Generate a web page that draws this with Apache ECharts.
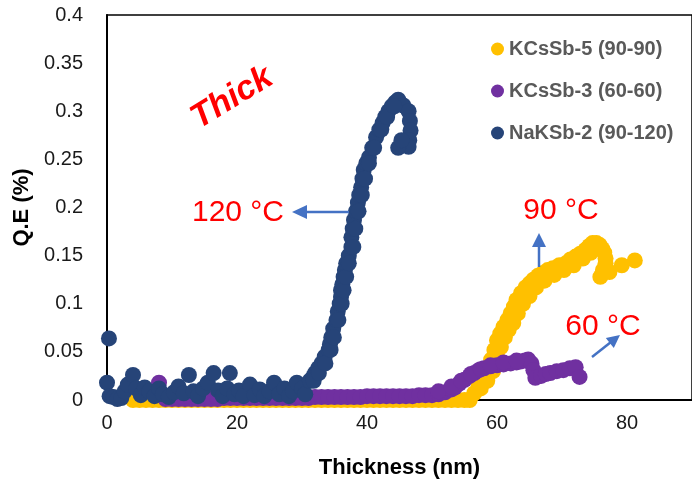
<!DOCTYPE html>
<html>
<head>
<meta charset="utf-8">
<script src="https://cdn.jsdelivr.net/npm/echarts@6/dist/echarts.min.js"></script>
<style>html,body{margin:0;padding:0;background:#fff}#c{width:692px;height:487px}</style>
</head>
<body>
<div id="c"></div>
<script>
var seriesNames = ['KCsSb-5 (90-90)', 'KCsSb-3 (60-60)', 'NaKSb-2 (90-120)'];
var seriesColors = ['#FFC000', '#7030A0', '#264478'];
var xTicks = [0, 20, 40, 60, 80];
var yTicks = [0, 0.05, 0.1, 0.15, 0.2, 0.25, 0.3, 0.35, 0.4];

// KCsSb-5 (90-90)
var k5X = [4,5,6,7,8,9,10,11,12,13,14,15,16,17,18,19,20,21,22,23,24,25,26,27,28,29,30,31,32,33,34,35,36,37,38,39,40,41,42,43,44,45,46,47,48,49,50,51,52,53,54,55,
  55.8,56.5,57.2,58,58.6,59.1,59.6,60,60.5,61,61.6,62.1,62.6,63,63.7,64.4,65,65.6,66.3,67.1,67.8,68.6,69.6,70.6,71.3,72.1,72.8,73.6,74.2,74.7,75.3,75.8,76.2,76.5,76.7,76.7,76.3,75.9,77.3,79.2,81.2,
  57.5,58.5,59.4,60,60.6,61.2,61.8,62.5,63.2,64,65,66,67.3,68.8,70.3,71.8,73.2,74.4];
var k5Y = [0,0,0,0,0,0,0,0,0,0,0,0,0,0,0,0,0,0,0,0,0,0,0,0,0,0,0,0,0,0,0,0,0,0,0,0,0,0,0,0,0,0,0,0,0,0,0,0,0,0,0,0,
  0,0.007,0.015,0.024,0.033,0.042,0.052,0.062,0.069,0.076,0.083,0.09,0.097,0.104,0.111,0.117,0.121,0.125,0.129,0.132,0.135,0.137,0.14,0.142,0.146,0.149,0.152,0.156,0.16,0.163,0.163,0.161,0.157,0.153,0.147,0.142,0.135,0.128,0.133,0.14,0.145,
  0.012,0.02,0.03,0.045,0.055,0.065,0.073,0.08,0.09,0.1,0.108,0.117,0.124,0.13,0.135,0.14,0.147,0.153];

// KCsSb-3 (60-60)
var k3X = [8,9,10,11,12,13,14,15,16,17,18,19,20,21,22,23,24,25,26,27,28,29,30,31,32,33,34,35,36,37,38,39,40,41,42,43,44,45,46,47,48,49,50,51,52,
  53,53.5,54.2,55,55.8,56.5,57.2,58,59,60,61,62.1,63,63.6,64.3,64.8,65.3,65.6,65.9,66.8,67.5,68.2,69.2,70.2,71.2,72.1,72.7,
  51,53,54.5,56,57.5,59,61,63];
var k3Y = [0.018,0.001,0.001,0.001,0.001,0.001,0.001,0.001,0.001,0.001,0.002,0.002,0.002,0.002,0.002,0.002,0.002,0.002,0.002,0.002,0.002,0.002,0.002,0.002,0.003,0.003,0.003,0.003,0.003,0.003,0.003,0.003,0.004,0.004,0.004,0.004,0.004,0.004,0.004,0.004,0.005,0.005,0.005,0.006,0.008,
  0.011,0.013,0.017,0.021,0.025,0.028,0.031,0.033,0.035,0.036,0.037,0.038,0.039,0.04,0.041,0.042,0.038,0.031,0.023,0.025,0.027,0.028,0.03,0.031,0.033,0.034,0.024,
  0.009,0.014,0.02,0.027,0.032,0.036,0.039,0.041];

// NaKSb-2 (90-120)
var n2X = [0,0.3,0.4,1,1.6,2.2,2.7,3.2,4,4.5,5.2,5.8,6.5,7.3,8,8.6,9.5,10.3,11,11.8,12.6,13.3,14,14.8,15.5,16.4,17.1,17.8,18.5,18.9,19.6,20.3,21,22,22.7,23.5,24.2,25,25.7,26.5,27.3,28,28.6,29.2,30,30.5,
  31.2,31.7,32,32.5,33,33.5,34.1,34.3,34.5,34.8,35.3,35.5,35.8,36,36,36.2,36.4,36.6,36.8,37.2,37.6,37.6,37.8,38,38.3,38.6,38.8,39.1,39.3,39.5,39.9,40.3,40.8,41.4,41.9,42.4,42.8,43.3,43.8,44.3,44.8,45.6,46.4,46.6,46.7,46.5,46.4,44.8,45.3,
  31.8,32.6,33.6,34.4,34.9,35.6,36.1,36.4,36.8,37.2,37.9,38.2,38.7,39.2,39.7,40.3,41.1,42.2,43.1,44.2];
var n2Y = [0.018,0.064,0.004,0.003,0.001,0.002,0.009,0.016,0.026,0.012,0.005,0.013,0.009,0.004,0.012,0.006,0.003,0.008,0.014,0.007,0.026,0.009,0.004,0.012,0.018,0.028,0.01,0.004,0.012,0.028,0.006,0.01,0.004,0.016,0.005,0.011,0.004,0.009,0.018,0.006,0.012,0.004,0.009,0.018,0.012,0.006,
  0.02,0.024,0.028,0.033,0.038,0.045,0.052,0.058,0.065,0.074,0.083,0.092,0.1,0.107,0.114,0.12,0.128,0.135,0.142,0.15,0.159,0.169,0.178,0.187,0.196,0.205,0.213,0.221,0.23,0.239,0.246,0.252,0.262,0.273,0.281,0.288,0.294,0.3,0.305,0.309,0.312,0.306,0.3,0.29,0.28,0.27,0.263,0.262,0.27,
  0.02,0.028,0.038,0.052,0.065,0.083,0.1,0.114,0.128,0.142,0.159,0.178,0.196,0.213,0.23,0.246,0.262,0.281,0.294,0.305];

function pairs(xs, ys) { return xs.map(function (x, i) { return [x, ys[i]]; }); }
var allData = [pairs(k5X, k5Y), pairs(k3X, k3Y), pairs(n2X, n2Y)];

var chart = echarts.init(document.getElementById('c'), null, {renderer: 'canvas'});
var FONT = 'Liberation Sans';
var arrowColor = '#4472C4';

var option = {
  animation: false,
  backgroundColor: '#fff',
  grid: {left: 107, top: 15, right: -9, bottom: 87, show: true, borderColor: '#000', borderWidth: 1.5, backgroundColor: 'transparent'},
  legend: {
    orient: 'vertical', left: 486, top: 34, itemWidth: 13, itemHeight: 13, itemGap: 22, icon: 'circle',
    data: seriesNames,
    textStyle: {fontFamily: FONT, fontWeight: 'bold', fontSize: 20, color: '#595959'}
  },
  xAxis: {
    type: 'value', min: 0, max: 90, interval: 20,
    name: 'Thickness (nm)', nameLocation: 'middle', nameGap: 57,
    nameTextStyle: {fontFamily: FONT, fontWeight: 'bold', fontSize: 22, color: '#000'},
    axisLine: {show: true, lineStyle: {color: '#000', width: 2}},
    axisTick: {show: false},
    splitLine: {show: false},
    axisLabel: {showMaxLabel: false, margin: 13, fontFamily: FONT, fontSize: 20, color: '#1a1a1a',
      formatter: function (v) { return xTicks.indexOf(v) >= 0 ? String(v) : ''; }}
  },
  yAxis: {
    type: 'value', min: 0, max: 0.4, interval: 0.05,
    name: 'Q.E (%)', nameLocation: 'middle', nameGap: 70, nameRotate: 90,
    nameTextStyle: {fontFamily: FONT, fontWeight: 'bold', fontSize: 22, color: '#000'},
    axisLine: {show: true, lineStyle: {color: '#000', width: 2}},
    axisTick: {show: false},
    splitLine: {show: false},
    axisLabel: {margin: 24, fontFamily: FONT, fontSize: 20, color: '#1a1a1a',
      formatter: function (v) { var t = yTicks.filter(function (y) { return Math.abs(y - v) < 1e-9; }); return t.length ? String(t[0]) : ''; }}
  },
  series: seriesNames.map(function (n, i) {
    return {name: n, type: 'scatter', data: allData[i], symbol: 'circle', symbolSize: 16, clip: false,
      itemStyle: {color: seriesColors[i], opacity: 1}, z: 2 + i};
  }),
  graphic: [
    {type: 'text', x: 232, y: 98, rotation: 0.55, z: 10,
      style: {text: 'Thick', fill: '#FF0000', font: 'italic bold 34px "Liberation Sans"', textAlign: 'center', textVerticalAlign: 'middle'}},
    {type: 'text', x: 238, y: 213, z: 10,
      style: {text: '120 °C', fill: '#FF0000', font: '30px "Liberation Sans"', textAlign: 'center', textVerticalAlign: 'middle'}},
    {type: 'text', x: 561, y: 211, z: 10,
      style: {text: '90 °C', fill: '#FF0000', font: '30px "Liberation Sans"', textAlign: 'center', textVerticalAlign: 'middle'}},
    {type: 'text', x: 603, y: 327, z: 10,
      style: {text: '60 °C', fill: '#FF0000', font: '30px "Liberation Sans"', textAlign: 'center', textVerticalAlign: 'middle'}},
    {type: 'line', z: 10, shape: {x1: 349, y1: 212, x2: 305, y2: 212}, style: {stroke: arrowColor, lineWidth: 2.5}},
    {type: 'polygon', z: 10, shape: {points: [[292, 212], [307, 205], [307, 219]]}, style: {fill: arrowColor}},
    {type: 'line', z: 10, shape: {x1: 539, y1: 267, x2: 539, y2: 245}, style: {stroke: arrowColor, lineWidth: 2.5}},
    {type: 'polygon', z: 10, shape: {points: [[539, 233], [532, 247], [546, 247]]}, style: {fill: arrowColor}},
    {type: 'line', z: 10, shape: {x1: 592, y1: 357, x2: 611, y2: 342}, style: {stroke: arrowColor, lineWidth: 2.5}},
    {type: 'polygon', z: 10, shape: {points: [[620, 335], [613.8, 348.1], [605.8, 337.9]]}, style: {fill: arrowColor}}
  ]
};
chart.setOption(option);
</script>
</body>
</html>
